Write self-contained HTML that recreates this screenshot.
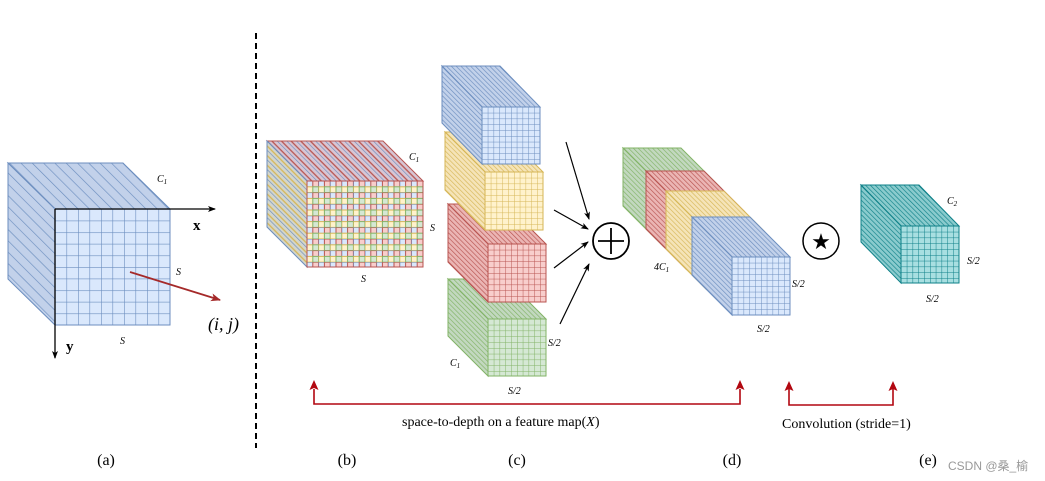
<!DOCTYPE html>
<html><head><meta charset="utf-8"><style>
html,body{margin:0;padding:0;background:#fff;}
svg{display:block;}
text{font-family:"Liberation Serif",serif;}
</style></head><body>
<svg width="1045" height="481" viewBox="0 0 1045 481" xmlns="http://www.w3.org/2000/svg">
<defs>
 <pattern id="sBlueA" width="8" height="20" patternUnits="userSpaceOnUse" patternTransform="rotate(-45)"><rect width="8" height="20" fill="#c2d1ea"/><line x1="0" y1="0" x2="0" y2="20" stroke="#6c8ebf" stroke-width="1.3"/></pattern>
 <pattern id="sBlue" width="3.4" height="20" patternUnits="userSpaceOnUse" patternTransform="rotate(-45)"><rect width="3.4" height="20" fill="#c2d1ea"/><line x1="0" y1="0" x2="0" y2="20" stroke="#6c8ebf" stroke-width="1.3"/></pattern>
 <pattern id="sYel" width="3.4" height="20" patternUnits="userSpaceOnUse" patternTransform="rotate(-45)"><rect width="3.4" height="20" fill="#f5e4b8"/><line x1="0" y1="0" x2="0" y2="20" stroke="#d6b656" stroke-width="1.3"/></pattern>
 <pattern id="sRed" width="3.4" height="20" patternUnits="userSpaceOnUse" patternTransform="rotate(-45)"><rect width="3.4" height="20" fill="#ebb5b4"/><line x1="0" y1="0" x2="0" y2="20" stroke="#b85450" stroke-width="1.3"/></pattern>
 <pattern id="sGrn" width="3.4" height="20" patternUnits="userSpaceOnUse" patternTransform="rotate(-45)"><rect width="3.4" height="20" fill="#c2d8bf"/><line x1="0" y1="0" x2="0" y2="20" stroke="#82b366" stroke-width="1.3"/></pattern>
 <pattern id="sTeal" width="3.4" height="20" patternUnits="userSpaceOnUse" patternTransform="rotate(-45)"><rect width="3.4" height="20" fill="#8acbcd"/><line x1="0" y1="0" x2="0" y2="20" stroke="#0e8088" stroke-width="1.3"/></pattern>
 <pattern id="sBR" width="6.8" height="20" patternUnits="userSpaceOnUse" patternTransform="rotate(-45)"><rect width="6.8" height="20" fill="#d8c6d4"/><line x1="0" y1="0" x2="0" y2="20" stroke="#6c8ebf" stroke-width="1.3"/><line x1="3.4" y1="0" x2="3.4" y2="20" stroke="#b85450" stroke-width="1.3"/></pattern>
 <pattern id="sBY" width="6.8" height="20" patternUnits="userSpaceOnUse" patternTransform="rotate(-45)"><rect width="6.8" height="20" fill="#d4d6cb"/><line x1="0" y1="0" x2="0" y2="20" stroke="#6c8ebf" stroke-width="1.3"/><line x1="3.4" y1="0" x2="3.4" y2="20" stroke="#d6b656" stroke-width="1.3"/></pattern>
 <pattern id="gBlueA" width="11.5" height="11.6" patternUnits="userSpaceOnUse"><rect width="11.5" height="11.6" fill="#dae8fc"/><path d="M0 0H11.5M0 0V11.6" stroke="#6c8ebf" stroke-width="1.2" fill="none"/></pattern>
 <pattern id="gBlue" width="5.8" height="5.8" patternUnits="userSpaceOnUse"><rect width="5.8" height="5.8" fill="#dae8fc"/><path d="M0 0H5.8M0 0V5.8" stroke="#6c8ebf" stroke-width="1" fill="none"/></pattern>
 <pattern id="gYel" width="5.8" height="5.8" patternUnits="userSpaceOnUse"><rect width="5.8" height="5.8" fill="#fff2cc"/><path d="M0 0H5.8M0 0V5.8" stroke="#d6b656" stroke-width="1" fill="none"/></pattern>
 <pattern id="gRed" width="5.8" height="5.8" patternUnits="userSpaceOnUse"><rect width="5.8" height="5.8" fill="#f8cecc"/><path d="M0 0H5.8M0 0V5.8" stroke="#b85450" stroke-width="1" fill="none"/></pattern>
 <pattern id="gGrn" width="5.8" height="5.8" patternUnits="userSpaceOnUse"><rect width="5.8" height="5.8" fill="#d5e8d4"/><path d="M0 0H5.8M0 0V5.8" stroke="#82b366" stroke-width="1" fill="none"/></pattern>
 <pattern id="gTeal" width="5.8" height="5.8" patternUnits="userSpaceOnUse"><rect width="5.8" height="5.8" fill="#a8dfe1"/><path d="M0 0H5.8M0 0V5.8" stroke="#0e8088" stroke-width="1" fill="none"/></pattern>
 <pattern id="gMix" width="11.6" height="11.6" patternUnits="userSpaceOnUse">
  <rect x="0" y="0" width="5.8" height="5.8" fill="#dae8fc" stroke="#6c8ebf" stroke-width="1"/>
  <rect x="5.8" y="0" width="5.8" height="5.8" fill="#f8cecc" stroke="#b85450" stroke-width="1"/>
  <rect x="0" y="5.8" width="5.8" height="5.8" fill="#fff2cc" stroke="#d6b656" stroke-width="1"/>
  <rect x="5.8" y="5.8" width="5.8" height="5.8" fill="#d5e8d4" stroke="#82b366" stroke-width="1"/>
 </pattern>
 <marker id="ab" markerWidth="8" markerHeight="8" refX="7" refY="4" orient="auto" markerUnits="userSpaceOnUse"><path d="M0 1L8 4L0 7L2 4Z" fill="#000"/></marker>
 <marker id="ar" markerWidth="10" markerHeight="10" refX="9" refY="5" orient="auto" markerUnits="userSpaceOnUse"><path d="M0 1L10 5L0 9L2.5 5Z" fill="#a52a2a"/></marker>
</defs>

<!-- (a) cube -->
<g transform="translate(55,209)">
 <polygon points="-47,-46 68,-46 115,0 0,0" fill="url(#sBlueA)" stroke="#6c8ebf"/>
 <polygon points="-47,-46 0,0 0,116 -47,70" fill="url(#sBlueA)" stroke="#6c8ebf"/>
 <rect x="0" y="0" width="115" height="116" fill="url(#gBlueA)" stroke="#6c8ebf"/>
</g>
<line x1="55" y1="209" x2="215" y2="209" stroke="#000" stroke-width="1.3" marker-end="url(#ab)"/>
<line x1="55" y1="209" x2="55" y2="358" stroke="#000" stroke-width="1.3" marker-end="url(#ab)"/>
<line x1="130" y1="272" x2="220" y2="300" stroke="#a52a2a" stroke-width="1.8" marker-end="url(#ar)"/>
<text x="193" y="230" font-size="15" font-weight="bold">x</text>
<text x="66" y="351" font-size="15" font-weight="bold">y</text>
<text x="157" y="182" font-size="10" font-style="italic">C<tspan font-size="7" dy="2">1</tspan></text>
<text x="176" y="275" font-size="10" font-style="italic">S</text>
<text x="120" y="344" font-size="10" font-style="italic">S</text>
<text x="208" y="330" font-size="18" font-style="italic">(i, j)</text>

<line x1="256" y1="33" x2="256" y2="448" stroke="#000" stroke-width="2" stroke-dasharray="6,4"/>

<!-- (b) -->
<g transform="translate(307,181)">
 <polygon points="-40,-40 76,-40 116,0 0,0" fill="url(#sBR)" stroke="#b85450"/>
 <polygon points="-40,-40 0,0 0,86 -40,46" fill="url(#sBY)" stroke="#6c8ebf"/>
 <rect x="0" y="0" width="116" height="86" fill="url(#gMix)" stroke="#b85450"/>
</g>
<text x="409" y="160" font-size="10" font-style="italic">C<tspan font-size="7" dy="2">1</tspan></text>
<text x="430" y="231" font-size="10" font-style="italic">S</text>
<text x="361" y="282" font-size="10" font-style="italic">S</text>

<!-- (c) drawn bottom to top -->
<g transform="translate(488,319)">
 <polygon points="-40,-40 18,-40 58,0 0,0" fill="url(#sGrn)" stroke="#82b366"/>
 <polygon points="-40,-40 0,0 0,57 -40,17" fill="url(#sGrn)" stroke="#82b366"/>
 <rect width="58" height="57" fill="url(#gGrn)" stroke="#82b366"/>
</g>
<g transform="translate(488,244)">
 <polygon points="-40,-40 18,-40 58,0 0,0" fill="url(#sRed)" stroke="#b85450"/>
 <polygon points="-40,-40 0,0 0,58 -40,18" fill="url(#sRed)" stroke="#b85450"/>
 <rect width="58" height="58" fill="url(#gRed)" stroke="#b85450"/>
</g>
<g transform="translate(485,172)">
 <polygon points="-40,-40 18,-40 58,0 0,0" fill="url(#sYel)" stroke="#d6b656"/>
 <polygon points="-40,-40 0,0 0,58 -40,18" fill="url(#sYel)" stroke="#d6b656"/>
 <rect width="58" height="58" fill="url(#gYel)" stroke="#d6b656"/>
</g>
<g transform="translate(482,107)">
 <polygon points="-40,-41 18,-41 58,0 0,0" fill="url(#sBlue)" stroke="#6c8ebf"/>
 <polygon points="-40,-41 0,0 0,57 -40,16" fill="url(#sBlue)" stroke="#6c8ebf"/>
 <rect width="58" height="57" fill="url(#gBlue)" stroke="#6c8ebf"/>
</g>
<text x="548" y="346" font-size="10" font-style="italic">S/2</text>
<text x="450" y="366" font-size="10" font-style="italic">C<tspan font-size="7" dy="2">1</tspan></text>
<text x="508" y="394" font-size="10" font-style="italic">S/2</text>

<line x1="566" y1="142" x2="589" y2="219" stroke="#000" stroke-width="1.2" marker-end="url(#ab)"/>
<line x1="554" y1="210" x2="588" y2="229" stroke="#000" stroke-width="1.2" marker-end="url(#ab)"/>
<line x1="554" y1="268" x2="588" y2="242" stroke="#000" stroke-width="1.2" marker-end="url(#ab)"/>
<line x1="560" y1="324" x2="589" y2="264" stroke="#000" stroke-width="1.2" marker-end="url(#ab)"/>
<circle cx="611" cy="241" r="18" fill="#fff" stroke="#000" stroke-width="1.8"/>
<path d="M598 241H624M611 228V254" stroke="#000" stroke-width="1.8"/>

<!-- (d) -->
<g transform="translate(663,188)">
 <polygon points="-40,-40 18,-40 58,0 0,0" fill="url(#sGrn)" stroke="#82b366"/>
 <polygon points="-40,-40 0,0 0,58 -40,18" fill="url(#sGrn)" stroke="#82b366"/>
 <rect width="58" height="58" fill="url(#sGrn)" stroke="#82b366"/>
</g>
<g transform="translate(686,211)">
 <polygon points="-40,-40 18,-40 58,0 0,0" fill="url(#sRed)" stroke="#b85450"/>
 <polygon points="-40,-40 0,0 0,58 -40,18" fill="url(#sRed)" stroke="#b85450"/>
 <rect width="58" height="58" fill="url(#sRed)" stroke="#b85450"/>
</g>
<g transform="translate(706,231)">
 <polygon points="-40,-40 18,-40 58,0 0,0" fill="url(#sYel)" stroke="#d6b656"/>
 <polygon points="-40,-40 0,0 0,58 -40,18" fill="url(#sYel)" stroke="#d6b656"/>
 <rect width="58" height="58" fill="url(#sYel)" stroke="#d6b656"/>
</g>
<g transform="translate(732,257)">
 <polygon points="-40,-40 18,-40 58,0 0,0" fill="url(#sBlue)" stroke="#6c8ebf"/>
 <polygon points="-40,-40 0,0 0,58 -40,18" fill="url(#sBlue)" stroke="#6c8ebf"/>
 <rect width="58" height="58" fill="url(#gBlue)" stroke="#6c8ebf"/>
</g>
<text x="654" y="270" font-size="10" font-style="italic">4C<tspan font-size="7" dy="2">1</tspan></text>
<text x="792" y="287" font-size="10" font-style="italic">S/2</text>
<text x="757" y="332" font-size="10" font-style="italic">S/2</text>

<circle cx="821" cy="241" r="18" fill="#fff" stroke="#000" stroke-width="1.5"/>
<text x="821" y="249" font-size="22" text-anchor="middle" font-family="DejaVu Sans,sans-serif">★</text>

<!-- (e) -->
<g transform="translate(901,226)">
 <polygon points="-40,-41 18,-41 58,0 0,0" fill="url(#sTeal)" stroke="#0e8088"/>
 <polygon points="-40,-41 0,0 0,57 -40,16" fill="url(#sTeal)" stroke="#0e8088"/>
 <rect width="58" height="57" fill="url(#gTeal)" stroke="#0e8088"/>
</g>
<text x="947" y="204" font-size="10" font-style="italic">C<tspan font-size="7" dy="2">2</tspan></text>
<text x="967" y="264" font-size="10" font-style="italic">S/2</text>
<text x="926" y="302" font-size="10" font-style="italic">S/2</text>

<polyline points="314,389 314,404 740,404 740,389" fill="none" stroke="#b20710" stroke-width="1.6"/>
<path d="M314 380L309.5 390L314 388L318.5 390Z M740 380L735.5 390L740 388L744.5 390Z" fill="#b20710"/>
<polyline points="789,389 789,405 893,405 893,389" fill="none" stroke="#b20710" stroke-width="1.6"/>
<path d="M789 381L784.5 391L789 389L793.5 391Z M893 381L888.5 391L893 389L897.5 391Z" fill="#b20710"/>
<text x="402" y="426" font-size="14">space-to-depth on a feature map(<tspan font-style="italic">X</tspan>)</text>
<text x="782" y="428" font-size="14">Convolution (stride=1)</text>

<text x="106" y="465" font-size="16" text-anchor="middle">(a)</text>
<text x="347" y="465" font-size="16" text-anchor="middle">(b)</text>
<text x="517" y="465" font-size="16" text-anchor="middle">(c)</text>
<text x="732" y="465" font-size="16" text-anchor="middle">(d)</text>
<text x="928" y="465" font-size="16" text-anchor="middle">(e)</text>
<text x="948" y="470" font-size="12" fill="#999" style="font-family:'Liberation Sans','Noto Sans CJK SC',sans-serif">CSDN @桑_榆</text>
</svg>
</body></html>
